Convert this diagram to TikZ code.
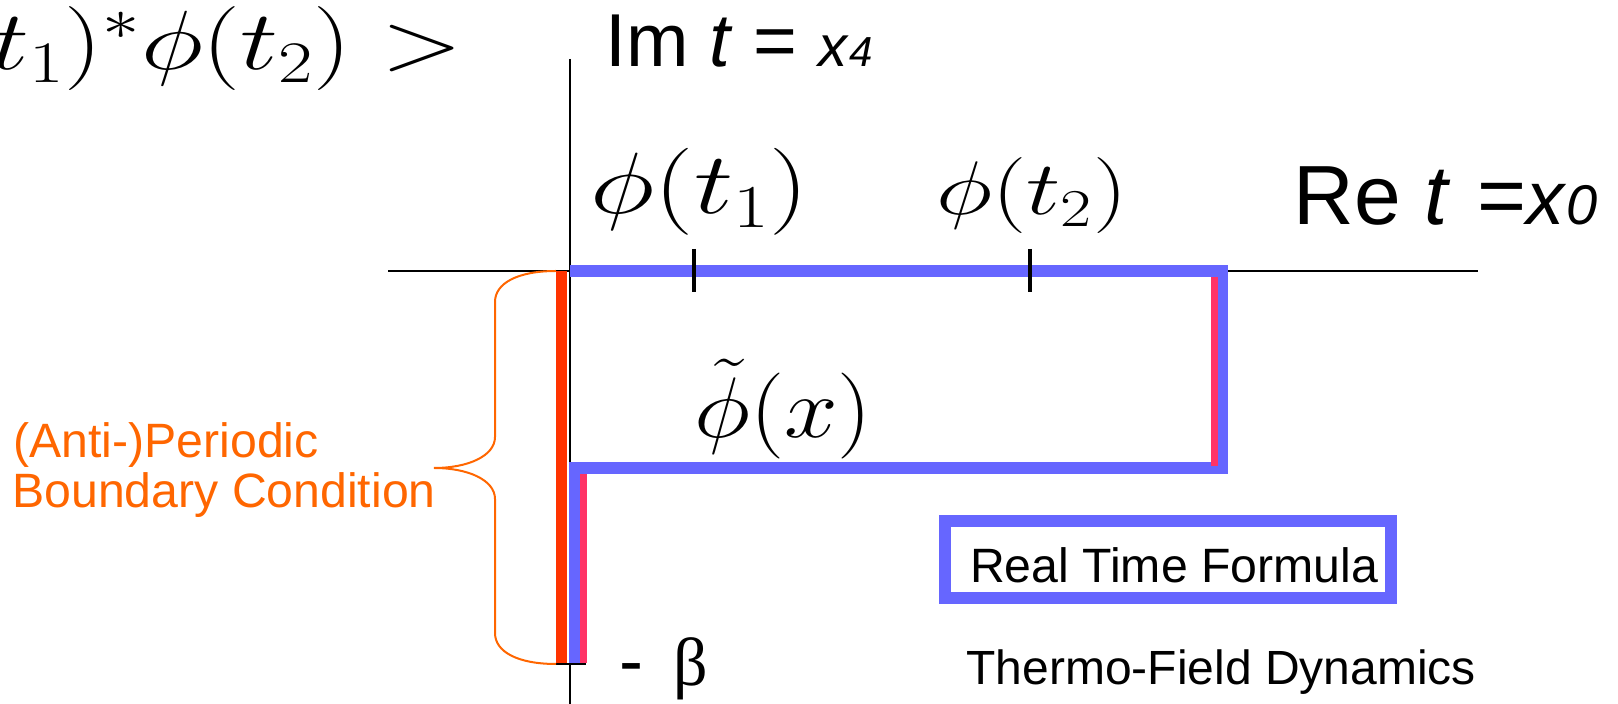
\RequirePackage{fix-cm}
\documentclass[tikz,border=0pt]{standalone}
\usepackage[no-math]{fontspec}
\setmainfont{Liberation Sans}
\newfontfamily\greekfont{Liberation Serif}
\usepackage{graphicx}
\usetikzlibrary{positioning}

\definecolor{contourblue}{HTML}{6666FF}
\definecolor{barred}{HTML}{FF3300}
\definecolor{edgepink}{HTML}{FF3366}
\definecolor{braceorange}{HTML}{FF6600}

\newcommand{\pxsize}[1]{\fontsize{#1}{#1}\selectfont}

\begin{document}
\begin{tikzpicture}[x=0.5pt, y=-0.5pt,
    axisline/.style={draw=black, line width=0.8pt},
    contour/.style={draw=contourblue, line width=6pt},
    redbar/.style={draw=barred, line width=5.5pt},
    pinkedge/.style={draw=edgepink, line width=3.5pt},
    tickmark/.style={draw=black, line width=2.2pt},
    bracecurve/.style={draw=braceorange, line width=1pt},
    txt/.style={inner sep=0pt, anchor=base west},
    mathtxt/.style={inner sep=0pt, anchor=base},
    rtfbox/.style={draw=contourblue, line width=6pt, inner sep=0pt, minimum width=223pt, minimum height=38.5pt, text height=23.5pt, text depth=0pt, font=\pxsize{24.1}}
]
\useasboundingbox (0,0) rectangle (1618,704);

% Axes
\draw[axisline] (388,271) -- (1478,271);
\draw[axisline] (570,59) -- (570,704);

% Boundary bar and -beta mark
\draw[redbar] (561.5,271) -- (561.5,664);
\coordinate (betamark) at (586,664);
\draw[axisline] (556,664) -- (betamark);

% Time contour
\draw[contour] (570,271) -- (1222,271) -- (1222,468) -- (575,468) -- (575,663);
\draw[pinkedge] (1214.5,277) -- (1214.5,466);
\draw[pinkedge] (583.5,474) -- (583.5,663);

% Ticks for t1, t2
\foreach \tx in {694,1030}
    \draw[tickmark] (\tx,249) -- (\tx,292);

% Brace
\draw[bracecurve] (556,271) .. controls (518,271) and (495,283) .. (495,302) -- (495,437)
    .. controls (495,456) and (468,468) .. (434,468)
    .. controls (468,468) and (495,480) .. (495,499) -- (495,633)
    .. controls (495,652) and (518,664) .. (556,664);

% Axis labels
\node[txt] (imlabel) at (605,67) {\pxsize{37.5}Im \textit{t} = {\pxsize{29}\textit{x}}{\pxsize{21}\textit{4}}};
\node[txt] (relabel) at (1293,225) {\pxsize{42}Re \textit{t}\hspace{13.5pt}={\pxsize{38}\textit{x}}{\pxsize{28}\textit{0}}};

% Formulas
\node[mathtxt, anchor=base east] (corr) at (463,70) {\pxsize{42}\scalebox{1.27}[1]{$t_1)^*\phi(t_2) >$}};
\node[mathtxt] (phione) at (700,214) {\pxsize{43.5}\scalebox{1.27}[1]{$\phi(t_1)$}};
\node[mathtxt] (phitwo) at (1032,215) {\pxsize{38}\scalebox{1.27}[1]{$\phi(t_2)$}};
\node[mathtxt] (phitilde) at (783,438) {\pxsize{43}\scalebox{1.12}[1]{$\tilde\phi(x)$}};

% Boundary condition
\node[txt, text=braceorange] (bcone) at (13,458) {\pxsize{24.1}(Anti-)Periodic};
\node[txt, text=braceorange] (bctwo) at (12,508) {\pxsize{24.1}Boundary Condition};

% Beta
\node[txt] (betalabel) at (619,686) {\pxsize{36}-\hspace{15pt}{\greekfont\pxsize{34}β}};

% Legend
\node[rtfbox] (rtf) at (1168,559.5) {\hspace*{6pt}Real Time Formula};
\node[txt] (tfd) at (966,685) {\pxsize{24}Thermo-Field Dynamics};

\end{tikzpicture}
\end{document}
